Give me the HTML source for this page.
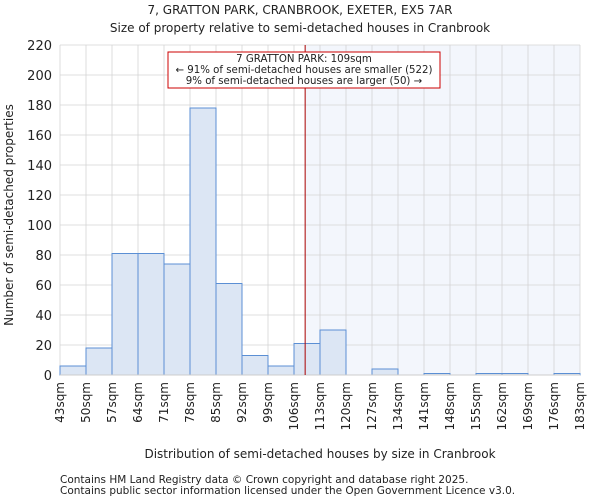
<!DOCTYPE html>
<html><head><meta charset="utf-8"><style>
body{margin:0;background:#fff;font-family:"DejaVu Sans","Liberation Sans",sans-serif;}
svg text{font-family:"DejaVu Sans","Liberation Sans",sans-serif;fill:#222;}
</style></head><body>
<svg id="chart" width="600" height="500">
<text x="300" y="14" text-anchor="middle" font-size="12">7, GRATTON PARK, CRANBROOK, EXETER, EX5 7AR</text>
<text x="300" y="32" text-anchor="middle" font-size="12">Size of property relative to semi-detached houses in Cranbrook</text>
<g id="grid"></g><g id="bars"></g><g id="axes"></g>
<text transform="translate(13,215) rotate(-90)" text-anchor="middle" font-size="12">Number of semi-detached properties</text>
<text x="320" y="458" text-anchor="middle" font-size="12">Distribution of semi-detached houses by size in Cranbrook</text>
<text x="60" y="483" font-size="10.5" fill="#444">Contains HM Land Registry data © Crown copyright and database right 2025.</text>
<text x="60" y="494" font-size="10.5" fill="#444">Contains public sector information licensed under the Open Government Licence v3.0.</text>
</svg>
<script>
const binEdges=[43,50,57,64,71,78,85,92,99,106,113,120,127,134,141,148,155,162,169,176,183];
const counts=[6,18,81,81,74,178,61,13,6,21,30,0,4,0,1,0,1,1,0,1];
const yTicks=[0,20,40,60,80,100,120,140,160,180,200,220];
const subjectSize=109;
const NS="http://www.w3.org/2000/svg";
const L=60,R=580,T=45,B=375;
const xS=v=>L+(v-binEdges[0])/(binEdges[binEdges.length-1]-binEdges[0])*(R-L);
const yS=v=>B-v/220*(B-T);
function mk(tag,a,p){const e=document.createElementNS(NS,tag);for(const k in a)e.setAttribute(k,a[k]);p.appendChild(e);return e;}
const grid=document.getElementById('grid'),bars=document.getElementById('bars'),axes=document.getElementById('axes');
const sx=xS(subjectSize);
const sh=mk('rect',{x:sx,y:T,width:R-sx,height:B-T,fill:'#f3f6fc'},grid);


yTicks.forEach(t=>{
 const l=mk('line',{x1:L,x2:R,y1:yS(t),y2:yS(t),stroke:'#d4d4d4','stroke-width':0.8},grid);
 
 
 const tx=mk('text',{x:L-8,y:yS(t)+5,'text-anchor':'end','font-size':13},axes);
 tx.textContent=t;
 
 
});
binEdges.forEach(e=>{
 const l=mk('line',{x1:xS(e),x2:xS(e),y1:T,y2:B,stroke:'#d4d4d4','stroke-width':0.8},grid);
 
 
 const tx=mk('text',{transform:`translate(${xS(e)+4},${B+7}) rotate(-90)`,'text-anchor':'end','font-size':12},axes);
 tx.textContent=e+'sqm';
 
 
});
counts.forEach((c,i)=>{
 if(c<=0)return;
 const x0=xS(binEdges[i]),x1=xS(binEdges[i+1]);
 const r=mk('rect',{x:x0,y:yS(c),width:x1-x0,height:B-yS(c),fill:'#dce6f4',stroke:'#5b8fd4','stroke-width':1},bars);
 
 
});
const bl=mk('line',{x1:L,x2:R,y1:B,y2:B,stroke:'#ccc'},axes);


const ml=mk('line',{x1:sx,x2:sx,y1:T,y2:B,stroke:'#a00','stroke-width':1},axes);


const g=mk('g',{},axes);


mk('rect',{x:168,y:52,width:272,height:36,fill:'#fff',stroke:'#c00','stroke-width':1},g);
[['7 GRATTON PARK: 109sqm',62],['← 91% of semi-detached houses are smaller (522)',73],['9% of semi-detached houses are larger (50) →',84]].forEach(([s,y])=>{
 const t=mk('text',{x:304,y:y,'text-anchor':'middle','font-size':10.2},g);
 t.textContent=s;
});
</script>
</body></html>
